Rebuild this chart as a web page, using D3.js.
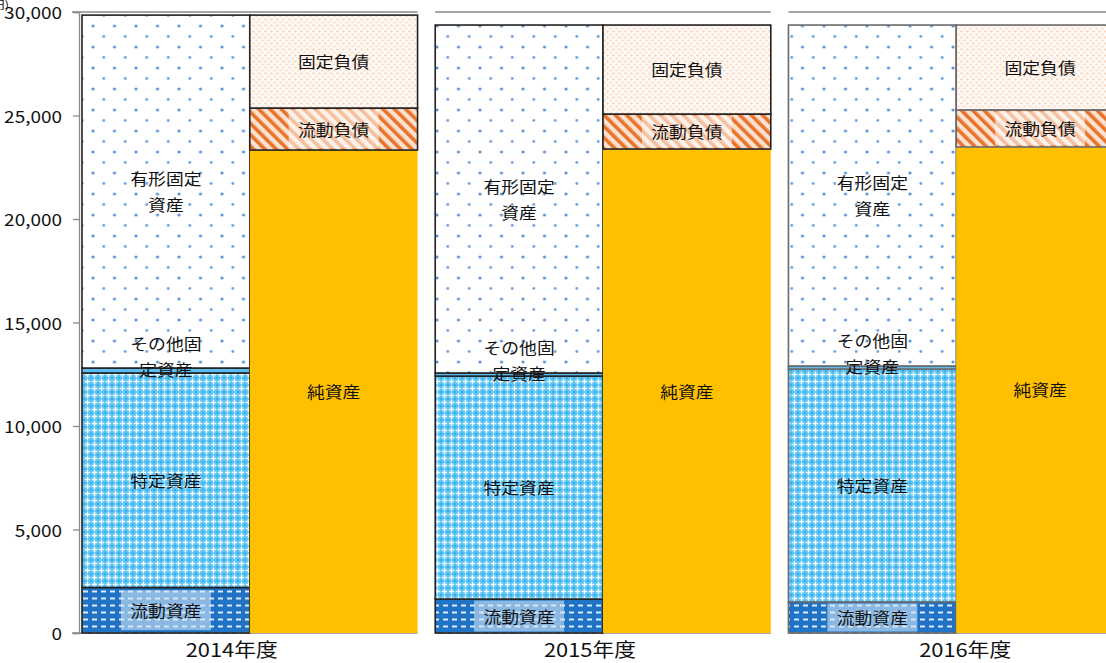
<!DOCTYPE html>
<html><head><meta charset="utf-8">
<script src="https://cdn.jsdelivr.net/npm/d3@7"></script>
<style>
html,body{margin:0;padding:0;background:#fff;overflow:hidden;}
text{font-family:"Noto Sans CJK JP","Noto Sans",sans-serif;fill:#111;}
</style></head>
<body><svg id="c" width="1106" height="663"></svg>
<script>
// ---- data ----
const years = ["2014年度", "2015年度", "2016年度"];
const assetKeys = ["流動資産", "特定資産", "その他固定資産", "有形固定資産"];
const liabKeys = ["純資産", "流動負債", "固定負債"];
const currentAssets = [2200, 1640, 1500];      // 流動資産
const specifiedAssets = [10360, 10770, 11250]; // 特定資産
const otherFixedAssets = [240, 150, 150];      // その他固定資産
const tangibleAssets = [17050, 16810, 16470];  // 有形固定資産
const netAssets = [23330, 23380, 23480];       // 純資産
const currentLiab = [2030, 1690, 1790];        // 流動負債
const fixedLiab = [4490, 4300, 4100];          // 固定負債
const yTicks = [0, 5000, 10000, 15000, 20000, 25000, 30000];
const labelLines = {
  "流動資産": ["流動資産"], "特定資産": ["特定資産"], "その他固定資産": ["その他固", "定資産"],
  "有形固定資産": ["有形固定", "資産"], "純資産": ["純資産"], "流動負債": ["流動負債"], "固定負債": ["固定負債"]
};

const seriesVals = {
  "流動資産": currentAssets, "特定資産": specifiedAssets, "その他固定資産": otherFixedAssets,
  "有形固定資産": tangibleAssets, "純資産": netAssets, "流動負債": currentLiab, "固定負債": fixedLiab
};

// ---- layout ----
const svg = d3.select("#c");
const y = d3.scaleLinear().domain([0, 30000]).range([633, 12]);
const xPanel = d3.scaleBand().domain(years).range([82, 1124]).paddingInner(0.05);
const xSide = d3.scaleBand().domain(["assets", "liab"]).range([0, xPanel.bandwidth()]);
const SX = 1.15;
const panelStroke = ["#222", "#222", "#6a6a6a"];
const yearLabelShift = [-18, -13, 9];

// ---- patterns ----
const defs = svg.append("defs");
// 有形固定資産: blue dots on white
let p = defs.append("pattern").attr("id", "pTangible").attr("patternUnits", "userSpaceOnUse")
  .attr("width", 21.5).attr("height", 21).attr("x", 4).attr("y", 2);
p.append("rect").attr("width", 21.5).attr("height", 21).attr("fill", "#fff");
p.append("circle").attr("cx", 3).attr("cy", 3).attr("r", 1.6).attr("fill", "#5b93dc");
p.append("circle").attr("cx", 13.75).attr("cy", 13.5).attr("r", 1.4).attr("fill", "#6e9fe0");
// 特定資産: light blue trellis
p = defs.append("pattern").attr("id", "pSpecified").attr("patternUnits", "userSpaceOnUse")
  .attr("width", 7).attr("height", 7);
p.append("rect").attr("width", 7).attr("height", 7).attr("fill", "#5cc3f3");
p.append("path").attr("d", "M3.5,0.8V6.2M0.8,3.5H6.2").attr("stroke", "#f2fbff").attr("stroke-width", 1.4);
p.append("circle").attr("cx", 0).attr("cy", 0).attr("r", 1.1).attr("fill", "#2ea8e8");
p.append("circle").attr("cx", 7).attr("cy", 0).attr("r", 1.1).attr("fill", "#2ea8e8");
p.append("circle").attr("cx", 0).attr("cy", 7).attr("r", 1.1).attr("fill", "#2ea8e8");
p.append("circle").attr("cx", 7).attr("cy", 7).attr("r", 1.1).attr("fill", "#2ea8e8");
// 流動資産: dark blue with white dashes
p = defs.append("pattern").attr("id", "pCurrent").attr("patternUnits", "userSpaceOnUse")
  .attr("width", 9).attr("height", 7);
p.append("rect").attr("width", 9).attr("height", 7).attr("fill", "#1f72c4");
p.append("rect").attr("x", 2).attr("y", 2.5).attr("width", 5).attr("height", 2).attr("fill", "#dceafa");
// 流動負債: orange diagonal stripes
p = defs.append("pattern").attr("id", "pCurLiab").attr("patternUnits", "userSpaceOnUse")
  .attr("width", 8).attr("height", 8).attr("patternTransform", "rotate(-45)");
p.append("rect").attr("width", 8).attr("height", 8).attr("fill", "#fbe2d0");
p.append("rect").attr("width", 3.6).attr("height", 8).attr("fill", "#e8742c");
// 固定負債: peach dots
p = defs.append("pattern").attr("id", "pFixLiab").attr("patternUnits", "userSpaceOnUse")
  .attr("width", 6).attr("height", 6);
p.append("rect").attr("width", 6).attr("height", 6).attr("fill", "#fff8f3");
p.append("circle").attr("cx", 1.5).attr("cy", 1.5).attr("r", 1.1).attr("fill", "#f7cfb2");
p.append("circle").attr("cx", 4.5).attr("cy", 4.5).attr("r", 1.1).attr("fill", "#f9dac4");

const fills = {
  "流動資産": "url(#pCurrent)", "特定資産": "url(#pSpecified)", "その他固定資産": "#5bbcf2",
  "有形固定資産": "url(#pTangible)", "純資産": "#ffc000", "流動負債": "url(#pCurLiab)", "固定負債": "url(#pFixLiab)"
};
const labelBox = { "流動資産": "rgba(205,228,246,0.62)", "流動負債": "rgba(255,255,255,0.55)" };

function stretchedText(g, x, yy, str, size, anchor) {
  const t = g.append("g").attr("transform", `translate(${x},${yy}) scale(${SX},1)`);
  return t.append("text").attr("text-anchor", anchor || "middle").attr("dominant-baseline", "central")
    .attr("font-size", size).text(str);
}

// ---- gridline at top & axis ----
years.forEach((yr, i) => {
  const x0 = xPanel(yr) - (i === 0 ? 10 : 0);
  svg.append("line").attr("x1", x0).attr("x2", xPanel(yr) + xPanel.bandwidth())
    .attr("y1", y(30000)).attr("y2", y(30000)).attr("stroke", "#a6a6a6").attr("stroke-width", 2);
  svg.append("line").attr("x1", x0).attr("x2", xPanel(yr) + xPanel.bandwidth())
    .attr("y1", y(0)).attr("y2", y(0)).attr("stroke", "#8c8c8c").attr("stroke-width", 1.5);
});

const axisG = svg.append("g").attr("transform", "translate(79,0)");
axisG.call(d3.axisLeft(y).tickValues(yTicks).tickSize(6).tickFormat(""));
axisG.selectAll("line,path").attr("stroke", "#8c8c8c").attr("stroke-width", 1.3);
yTicks.forEach(v => stretchedText(svg, 62, y(v), d3.format(",")(v), 16.5, "end"));
stretchedText(svg, 9, 4, "(百万円)", 11, "end");

// ---- bars ----
years.forEach((yr, i) => {
  const g = svg.append("g");
  [["assets", assetKeys], ["liab", liabKeys]].forEach(([side, keys]) => {
    const x0 = xPanel(yr) + xSide(side), w = xSide.bandwidth();
    let cum = 0;
    const segs = keys.map(k => { const s = { k, v0: cum, v1: cum + seriesVals[k][i] }; cum += seriesVals[k][i]; return s; });
    segs.forEach(s => {
      g.append("rect").attr("x", x0).attr("y", y(s.v1)).attr("width", w).attr("height", y(s.v0) - y(s.v1))
        .attr("fill", fills[s.k]).attr("stroke", s.k === "純資産" ? "none" : panelStroke[i])
        .attr("stroke-width", 1.6);
    });
    segs.forEach(s => {
      const cx = x0 + w / 2;
      let cy = (y(s.v0) + y(s.v1)) / 2;
      if (s.k === "その他固定資産") cy -= 14;
      const lines = labelLines[s.k];
      if (labelBox[s.k]) {
        const bw = 90, bh = Math.min(y(s.v0) - y(s.v1) - 3, 40);
        g.append("rect").attr("x", cx - bw / 2).attr("y", cy - bh / 2).attr("width", bw).attr("height", bh)
          .attr("fill", labelBox[s.k]);
      }
      lines.forEach((ln, j) => {
        stretchedText(g, cx, cy + (j - (lines.length - 1) / 2) * 26, ln, 15.5);
      });
    });
  });
  stretchedText(svg, xPanel(yr) + xPanel.bandwidth() / 2 + yearLabelShift[i], 649, yr, 19);
});
</script></body></html>
